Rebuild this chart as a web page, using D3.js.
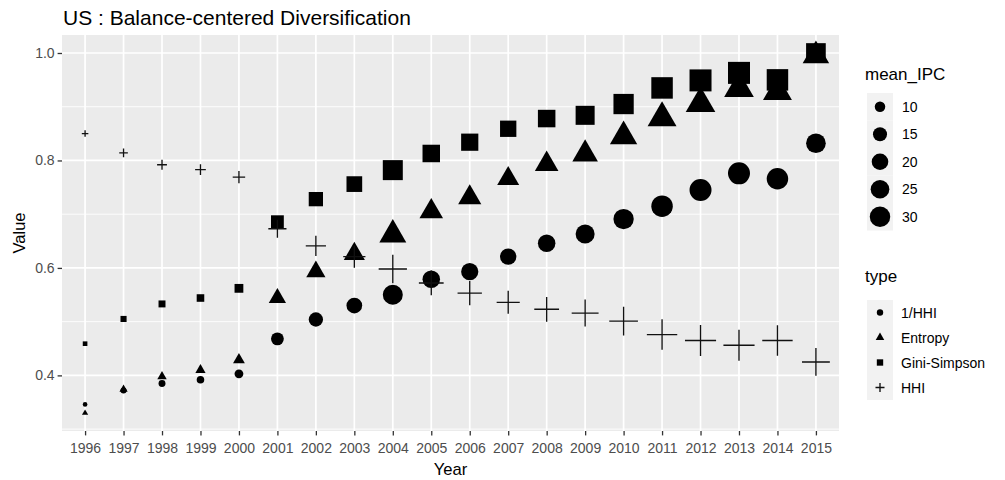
<!DOCTYPE html>
<html>
<head>
<meta charset="utf-8">
<script src="https://cdn.jsdelivr.net/npm/d3@7"></script>
<style>
  html, body { margin: 0; padding: 0; background: #ffffff; }
  svg { display: block; font-family: "Liberation Sans", Arial, Helvetica, sans-serif; }
</style>
</head>
<body>
<svg id="chart" width="1005" height="480"></svg>
<script>
// ---------------- data ----------------
const years = ["1996","1997","1998","1999","2000","2001","2002","2003","2004","2005",
               "2006","2007","2008","2009","2010","2011","2012","2013","2014","2015"];
const meanIPC = [6.8, 7.0, 7.3, 7.6, 8.4, 13.0, 15.4, 18.1, 28.6, 22.1,
                 21.4, 19.4, 22.1, 25.9, 29.4, 33.0, 34.6, 34.7, 33.0, 27.7];
const invHHI  = [0.346, 0.372, 0.385, 0.392, 0.403, 0.468, 0.504, 0.530, 0.550, 0.579,
                 0.593, 0.621, 0.646, 0.663, 0.691, 0.715, 0.745, 0.776, 0.766, 0.832];
const entropy = [0.330, 0.374, 0.398, 0.410, 0.429, 0.544, 0.593, 0.626, 0.662, 0.705,
                 0.731, 0.766, 0.793, 0.812, 0.845, 0.879, 0.906, 0.934, 0.928, 0.995];
const giniSimpson = [0.459, 0.505, 0.533, 0.544, 0.562, 0.686, 0.728, 0.756, 0.782, 0.813,
                 0.834, 0.859, 0.878, 0.884, 0.905, 0.935, 0.949, 0.963, 0.950, 1.000];
const hhi     = [0.850, 0.814, 0.792, 0.783, 0.769, 0.673, 0.641, 0.621, 0.598, 0.572,
                 0.553, 0.536, 0.523, 0.516, 0.501, 0.476, 0.465, 0.456, 0.465, 0.425];
const typeNames = ["1/HHI", "Entropy", "Gini-Simpson", "HHI"];
const typeShapes = ["circle", "triangle", "square", "plus"];
const seriesValues = [invHHI, entropy, giniSimpson, hhi];
const yTicks = [0.4, 0.6, 0.8, 1.0];
const yMinorTicks = [0.3, 0.5, 0.7, 0.9];
const sizeBreaks = [10, 15, 20, 25, 30];
const titleText = "US : Balance-centered Diversification";

// ---------------- layout ----------------
const svg = d3.select("#chart");
const panel = { left: 62, right: 839, top: 35, bottom: 431 };
const PX = 1.63; // px per pt

const x = d3.scalePoint().domain(years).range([panel.left, panel.right]).padding(0.6);

const allVals = seriesValues.flat();
const [vmin, vmax] = d3.extent(allVals);
const pad = (vmax - vmin) * 0.05;
const y = d3.scaleLinear().domain([vmin - pad, vmax + pad]).range([panel.bottom, panel.top]);

// ggplot-like area size scale: size (mm) = 1 + 5*sqrt(t)
const tScale = d3.scaleLinear().domain(d3.extent(meanIPC)).range([0, 1]).clamp(true);
function diam(v) {
  const s = 1 + 5 * Math.sqrt(tScale(v));
  return 0.75 * PX * (2.845 * s + 0.945);
}
function diamFromSize(s) { return 0.75 * PX * (2.845 * s + 0.945); }

function shapePath(shape, d) {
  const R = d / 2;
  const p = d3.path();
  if (shape === "circle") {
    p.arc(0, 0, R, 0, 2 * Math.PI);
  } else if (shape === "square") {
    p.rect(-R, -R, 2 * R, 2 * R);
  } else if (shape === "triangle") {
    const r = 1.5551 * R, yc = 0.7776 * R, xc = 1.3468 * R;
    p.moveTo(0, -r); p.lineTo(xc, yc); p.lineTo(-xc, yc); p.closePath();
  } else if (shape === "plus") {
    const h = Math.SQRT2 * R;
    p.moveTo(-h, 0); p.lineTo(h, 0); p.moveTo(0, -h); p.lineTo(0, h);
  }
  return p.toString();
}
function drawShape(g, shape, d, cx, cy) {
  const el = g.append("path").attr("d", shapePath(shape, d))
    .attr("transform", `translate(${cx},${cy})`);
  if (shape === "plus") el.attr("fill", "none").attr("stroke", "#111").attr("stroke-width", 1.35);
  else el.attr("fill", "#000").attr("stroke", "none");
  return el;
}

// title
svg.append("text").attr("x", panel.left + 1).attr("y", 25)
  .attr("font-size", 21).attr("fill", "#000").text(titleText);

// panel background
svg.append("rect").attr("x", panel.left).attr("y", panel.top)
  .attr("width", panel.right - panel.left).attr("height", panel.bottom - panel.top)
  .attr("fill", "#EBEBEB");

const grid = svg.append("g");
grid.selectAll("line.minor").data(yMinorTicks).join("line")
  .attr("x1", panel.left).attr("x2", panel.right)
  .attr("y1", d => y(d)).attr("y2", d => y(d))
  .attr("stroke", "#fff").attr("stroke-width", 0.9);
grid.selectAll("line.majy").data(yTicks).join("line")
  .attr("x1", panel.left).attr("x2", panel.right)
  .attr("y1", d => y(d)).attr("y2", d => y(d))
  .attr("stroke", "#fff").attr("stroke-width", 1.7);
grid.selectAll("line.majx").data(years).join("line")
  .attr("x1", d => x(d)).attr("x2", d => x(d))
  .attr("y1", panel.top).attr("y2", panel.bottom)
  .attr("stroke", "#fff").attr("stroke-width", 1.7);

// axes
const xAxis = svg.append("g").attr("transform", `translate(0,${panel.bottom})`)
  .call(d3.axisBottom(x).tickSize(4.4).tickPadding(8));
const yAxis = svg.append("g").attr("transform", `translate(${panel.left},0)`)
  .call(d3.axisLeft(y).tickValues(yTicks).tickFormat(d3.format(".1f")).tickSize(4.4).tickPadding(3));
[xAxis, yAxis].forEach(a => {
  a.select(".domain").remove();
  a.selectAll(".tick line").attr("stroke", "#333").attr("stroke-width", 1.3);
  a.selectAll(".tick text").attr("fill", "#4D4D4D").attr("font-size", 14)
    .attr("font-family", "Liberation Sans, Arial, sans-serif");
});

// axis titles
svg.append("text").attr("x", (panel.left + panel.right) / 2).attr("y", 475)
  .attr("text-anchor", "middle").attr("font-size", 16.6).attr("fill", "#000").text("Year");
svg.append("text").attr("transform", `translate(25,${(panel.top + panel.bottom) / 2}) rotate(-90)`)
  .attr("text-anchor", "middle").attr("font-size", 16.6).attr("fill", "#000").text("Value");

// points
const pts = svg.append("g");
seriesValues.forEach((vals, si) => {
  vals.forEach((v, i) => {
    drawShape(pts, typeShapes[si], diam(meanIPC[i]), x(years[i]), y(v));
  });
});

// legend: mean_IPC
const lg1 = svg.append("g");
lg1.append("text").attr("x", 865).attr("y", 80).attr("font-size", 17).attr("fill", "#000").text("mean_IPC");
const k1Top = 93, k1H = 27.5;
sizeBreaks.forEach((b, i) => {
  const cy = k1Top + k1H * i + k1H / 2;
  lg1.append("rect").attr("x", 867).attr("y", k1Top + k1H * i).attr("width", 26).attr("height", k1H)
    .attr("fill", "#F2F2F2");
  drawShape(lg1, "circle", diam(b), 880, cy);
  lg1.append("text").attr("x", 902).attr("y", cy + 5).attr("font-size", 14).attr("fill", "#000").text(b);
});

// legend: type
const lg2 = svg.append("g");
lg2.append("text").attr("x", 865).attr("y", 282).attr("font-size", 17).attr("fill", "#000").text("type");
const k2Top = 300, k2H = 25;
typeNames.forEach((t, i) => {
  const cy = k2Top + k2H * i + k2H / 2;
  lg2.append("rect").attr("x", 867).attr("y", k2Top + k2H * i).attr("width", 26).attr("height", k2H)
    .attr("fill", "#F2F2F2");
  drawShape(lg2, typeShapes[i], diamFromSize(1.5), 880, cy);
  lg2.append("text").attr("x", 901).attr("y", cy + 5).attr("font-size", 14).attr("fill", "#000").text(t);
});
</script>
</body>
</html>
